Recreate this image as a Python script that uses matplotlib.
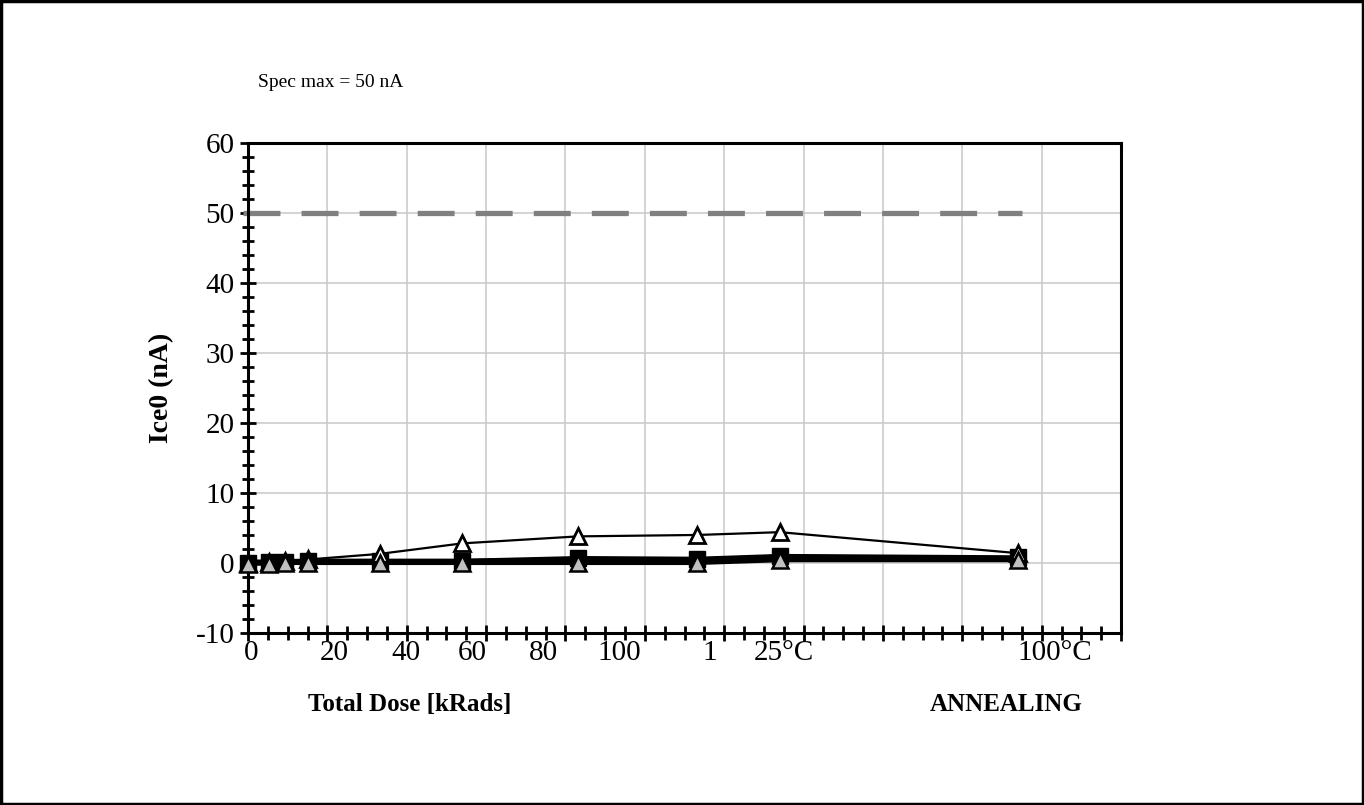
import matplotlib
matplotlib.use('Agg')
import matplotlib.pyplot as plt
from matplotlib.patches import Rectangle
from matplotlib.ticker import MultipleLocator, NullFormatter

plt.rcParams['font.family'] = ['Liberation Serif', 'DejaVu Serif']
plt.rcParams['axes.unicode_minus'] = False

# measurement steps along the chart (irradiation, then annealing)
steps = [0.0, 0.26, 0.47, 0.76, 1.66, 2.70, 4.16, 5.66, 6.70, 9.70]

# Ice0 readings per device (nA)
dev_hi = [0.0, 0.1, 0.3, 0.5, 1.3, 2.8, 3.8, 4.0, 4.4, 1.4]
dev_sq = [0.0, 0.1, 0.2, 0.3, 0.3, 0.3, 0.7, 0.6, 1.0, 0.8]
dev_a = [0.2, 0.2, 0.3, 0.3, 0.3, 0.3, 0.5, 0.5, 0.9, 0.7]
dev_b = [0.0, 0.0, 0.1, 0.1, 0.1, 0.1, 0.3, 0.3, 0.6, 0.5]
dev_tri = [-0.1, -0.1, 0.0, 0.0, 0.0, 0.0, 0.0, 0.0, 0.4, 0.4]

spec_x = [-0.06, 9.75]
spec_y = [50, 50]

tick_labels = ['0', '20', '40', '60', '80', '100', '1', '25°C', '100°C']
tick_pos = [0.04, 1.09, 1.99, 2.83, 3.72, 4.68, 5.82, 6.75, 10.16]

fig = plt.figure(figsize=(13.64, 8.05), dpi=100)
ax = fig.add_axes([0.1818, 0.2137, 0.6401, 0.6087])

ax.set_xlim(0, 11)
ax.set_ylim(-10, 60)
ax.xaxis.set_major_locator(MultipleLocator(1))
ax.xaxis.set_minor_locator(MultipleLocator(0.25))
ax.yaxis.set_major_locator(MultipleLocator(10))
ax.yaxis.set_minor_locator(MultipleLocator(2))
ax.xaxis.set_major_formatter(NullFormatter())
ax.grid(True, which='major', color='#c8c8c8', lw=1.1)
ax.set_axisbelow(True)

ax.tick_params(axis='both', which='both', direction='inout', width=2, colors='black')
ax.tick_params(axis='x', which='major', length=12)
ax.tick_params(axis='x', which='minor', length=10)
ax.tick_params(axis='y', which='major', length=11, labelsize=21, pad=4)
ax.tick_params(axis='y', which='minor', length=9)
for s in ax.spines.values():
    s.set_linewidth(2.2)

ax.plot(spec_x, spec_y, color='#808080', lw=3.8, dashes=(7.0, 4.0), zorder=2,
        clip_on=False)

ax.plot(steps, dev_a, color='black', lw=3, zorder=3)
ax.plot(steps, dev_b, color='black', lw=3, zorder=3)
ax.plot(steps, dev_sq, color='black', lw=3, marker='s', ms=12,
        mfc='black', mec='black', zorder=4, clip_on=False)
ax.plot(steps, dev_tri, color='black', lw=3, marker='^', ms=11,
        mfc='#c0c0c0', mec='black', mew=1.8, zorder=5, clip_on=False)
ax.plot(steps, dev_hi, color='black', lw=1.6, marker='^', ms=11,
        mfc='white', mec='black', mew=2, zorder=4, clip_on=False)

for p, t in zip(tick_pos, tick_labels):
    ax.text(p, -12.8, t, ha='center', va='center', fontsize=21)

ax.set_ylabel('Ice0 (nA)', fontsize=20, fontweight='bold', labelpad=16)

fig.text(0.3006, 0.1245, 'Total Dose [kRads]', ha='center', va='center',
         fontsize=18, fontweight='bold')
fig.text(0.7375, 0.1245, 'ANNEALING', ha='center', va='center',
         fontsize=18, fontweight='bold')
fig.text(0.189, 0.898, 'Spec max = 50 nA', ha='left', va='center', fontsize=14)

fig.patches.append(Rectangle((0.001, 0.001), 0.998, 0.998, transform=fig.transFigure,
                             fill=False, edgecolor='black', lw=2.5))

fig.savefig('out.png', dpi=100, facecolor='white')
